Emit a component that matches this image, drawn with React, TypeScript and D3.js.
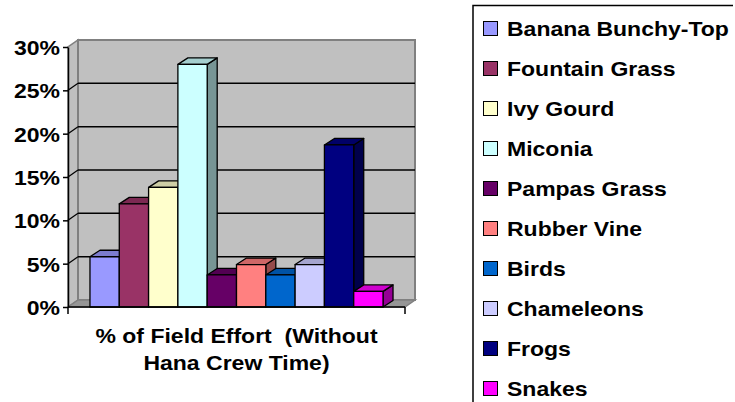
import React, { useRef, useEffect } from "react";
import * as d3 from "d3";

// Values
const species = [
  "Banana Bunchy-Top",
  "Fountain Grass",
  "Ivy Gourd",
  "Miconia",
  "Pampas Grass",
  "Rubber Vine",
  "Birds",
  "Chameleons",
  "Frogs",
  "Snakes",
];
const effort = [5.8, 11.9, 13.8, 28, 3.7, 4.9, 3.7, 4.9, 18.7, 1.8];
const colors = [
  "#9999FF",
  "#993366",
  "#FFFFCC",
  "#CCFFFF",
  "#660066",
  "#FF8080",
  "#0066CC",
  "#CCCCFF",
  "#000080",
  "#FF00FF",
];
const yTicks = [0, 5, 10, 15, 20, 25, 30];
const categories = ["effort"];
const categoryLabel = ["% of Field Effort  (Without", "Hana Crew Time)"];

const W = 735;
const H = 402;
const FONT = "Arial, 'Liberation Sans', Helvetica, sans-serif";
const SX = 1.15; // the original text is stretched horizontally

const App = () => {
  const svgRef = useRef<SVGSVGElement | null>(null);

  useEffect(() => {
    const svg = d3.select(svgRef.current);
    svg.selectAll("*").remove();

    const left = 68;
    const right = 405;
    const base = 307;
    const top = 47;
    const dx = 10; // depth offset of the walls
    const dy = -7;

    const y = d3.scaleLinear().domain([0, 30]).range([base, top]);
    const xCat = d3.scaleBand().domain(categories).range([left, right]);
    const x = d3
      .scaleBand()
      .domain(species)
      .range([0, xCat.bandwidth()])
      .paddingInner(0)
      .paddingOuter(0.75);

    const poly = (pts: number[][]) => pts.map((p) => p.join(",")).join(" ");

    // side wall
    svg
      .append("polygon")
      .attr("points", poly([[left, base], [left, top], [left + dx, top + dy], [left + dx, base + dy]]))
      .attr("fill", "#c0c0c0")
      .attr("stroke", "#808080")
      .attr("stroke-width", 1.5);

    // back wall
    svg
      .append("rect")
      .attr("x", left + dx)
      .attr("y", top + dy)
      .attr("width", right - left)
      .attr("height", base - top)
      .attr("fill", "#c0c0c0")
      .attr("stroke", "#808080")
      .attr("stroke-width", 2);

    // floor
    svg
      .append("polygon")
      .attr("points", poly([[left, base], [right, base], [right + dx, base + dy], [left + dx, base + dy]]))
      .attr("fill", "#969696")
      .attr("stroke", "#808080")
      .attr("stroke-width", 1.5);

    // gridlines
    const grid = yTicks.filter((t) => t > 0 && t < 30);
    svg
      .selectAll(".grid")
      .data(grid)
      .enter()
      .append("line")
      .attr("x1", left + dx)
      .attr("x2", right + dx)
      .attr("y1", (d) => y(d) + dy)
      .attr("y2", (d) => y(d) + dy)
      .attr("stroke", "#000")
      .attr("stroke-width", 1.5);
    svg
      .selectAll(".sgrid")
      .data(grid)
      .enter()
      .append("line")
      .attr("x1", left)
      .attr("x2", left + dx)
      .attr("y1", (d) => y(d))
      .attr("y2", (d) => y(d) + dy)
      .attr("stroke", "#000")
      .attr("stroke-width", 1.2);

    // bars
    const bx = dx;
    const by = -6.5;
    const x0 = xCat("effort") || 0;
    const bars = svg.append("g");
    species.forEach((s, i) => {
      const xl = x0 + (x(s) || 0);
      const xr = xl + x.bandwidth();
      const yt = y(effort[i]);
      const c = d3.color(colors[i])!;
      const g = bars.append("g").attr("stroke", "#000").attr("stroke-width", 1.3).attr("stroke-linejoin", "round");
      g.append("polygon")
        .attr("points", poly([[xr, base], [xr, yt], [xr + bx, yt + by], [xr + bx, base + by]]))
        .attr("fill", c.darker(1.5).formatHex());
      g.append("polygon")
        .attr("points", poly([[xl, yt], [xr, yt], [xr + bx, yt + by], [xl + bx, yt + by]]))
        .attr("fill", c.darker(0.6).formatHex());
      g.append("rect")
        .attr("x", xl)
        .attr("y", yt)
        .attr("width", x.bandwidth())
        .attr("height", base - yt)
        .attr("fill", colors[i]);
    });

    // y axis
    const yAxis = svg
      .append("g")
      .attr("transform", `translate(${left},0)`)
      .call(
        d3
          .axisLeft(y)
          .tickValues(yTicks)
          .tickSize(5)
          .tickSizeOuter(0)
          .tickFormat((d) => `${d}%`)
      );
    yAxis.select(".domain").attr("stroke", "#000").attr("stroke-width", 1.5);
    yAxis.selectAll(".tick line").attr("stroke", "#000").attr("stroke-width", 1.5);
    yAxis
      .selectAll(".tick text")
      .attr("fill", "#000")
      .attr("font-family", FONT)
      .attr("font-weight", "bold")
      .attr("font-size", 20)
      .attr("x", -8 / SX)
      .attr("dy", "0.37em")
      .attr("transform", `scale(${SX},1)`);

    // x axis
    svg
      .append("line")
      .attr("x1", left)
      .attr("x2", right)
      .attr("y1", base)
      .attr("y2", base)
      .attr("stroke", "#000")
      .attr("stroke-width", 1.5);
    [left, right].forEach((xx) =>
      svg
        .append("line")
        .attr("x1", xx)
        .attr("x2", xx)
        .attr("y1", base)
        .attr("y2", base + 7)
        .attr("stroke", "#000")
        .attr("stroke-width", 1.5)
    );

    // category label
    const cx = x0 + xCat.bandwidth() / 2;
    categoryLabel.forEach((line, i) => {
      svg
        .append("g")
        .attr("transform", `translate(${cx},${343 + i * 27}) scale(${SX},1)`)
        .append("text")
        .attr("text-anchor", "middle")
        .attr("font-family", FONT)
        .attr("font-weight", "bold")
        .attr("font-size", 20)
        .style("white-space", "pre")
        .text(line);
    });

    // legend (box runs off the right and bottom of the picture)
    const legend = svg.append("g");
    legend
      .append("path")
      .attr("d", "M473,410 V5.5 H733")
      .attr("fill", "none")
      .attr("stroke", "#000")
      .attr("stroke-width", 1.5);
    species.forEach((s, i) => {
      const cy = 28.5 + i * 40;
      legend
        .append("rect")
        .attr("x", 483.5)
        .attr("y", cy - 7)
        .attr("width", 14)
        .attr("height", 14)
        .attr("fill", colors[i])
        .attr("stroke", "#000")
        .attr("stroke-width", 1);
      legend
        .append("g")
        .attr("transform", `translate(507,${cy + 7}) scale(${SX},1)`)
        .append("text")
        .attr("font-family", FONT)
        .attr("font-weight", "bold")
        .attr("font-size", 20)
        .text(s);
    });
  }, []);

  return (
    <svg
      ref={svgRef}
      width={W}
      height={H}
      style={{ position: "absolute", left: 0, top: 0, background: "#fff" }}
    />
  );
};

export default App;
